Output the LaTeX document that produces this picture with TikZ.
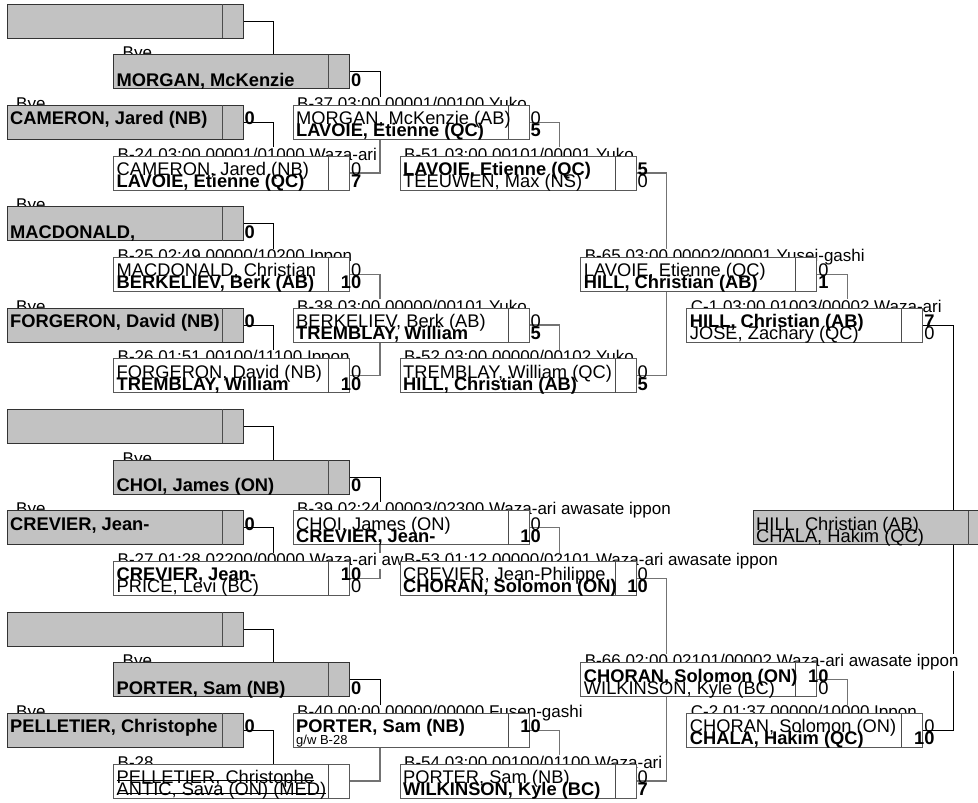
\documentclass[tikz,border=0pt]{standalone}
\usepackage{fontspec}
\setmainfont{Liberation Sans}
\definecolor{boxgray}{RGB}{194,194,194}
\newcommand\mydef[3]{\path node[boxdef] (#1) at (#2,-#3) {};}
\newcommand\mydraw[2]{\filldraw[#2] (#1.north west) rectangle (#1.south east);
  \draw[divl] ([xshift=-21pt]#1.north east) -- ([xshift=-21pt]#1.south east);}
\newcommand\mylab[3]{\node[labl, anchor=base west] (#1-l) at ([shift={(#3,-4pt)}]#1.north west) {#2};}
\newcommand\mytA[3]{\node[#3, anchor=base west] (#1-a) at ([shift={(3pt,-19.5pt)}]#1.north west) {#2};}
\newcommand\mytB[3]{\node[#3, anchor=base west] (#1-b) at ([shift={(3pt,-31.5pt)}]#1.north west) {#2};}
\newcommand\mysA[3]{\node[#3, anchor=base east] (#1-sa) at ([shift={(12pt,-19.5pt)}]#1.north east) {#2};}
\newcommand\mysB[3]{\node[#3, anchor=base east] (#1-sb) at ([shift={(12pt,-31.5pt)}]#1.north east) {#2};}
\newcommand\myconn[4]{\draw[#4] (#1.east) -- ++(30.5pt,0) coordinate (#1-k) -- (#1-k |- #2.#3);}
\tikzset{
  boxdef/.style={rectangle, minimum width=236pt, minimum height=34pt, inner sep=0pt, outer sep=0pt, anchor=north west},
  gbox/.style={draw=black!80, fill=boxgray, line width=0.9pt},
  wbox/.style={draw=black!65, fill=white, line width=0.9pt},
  divl/.style={draw=black!70, line width=0.9pt},
  labl/.style={fill=white, inner xsep=1pt, inner ysep=0.5pt, font=\fontsize{17}{17}\selectfont},
  nm/.style={inner sep=0pt, font=\fontsize{18.3}{18.3}\selectfont},
  nmb/.style={inner sep=0pt, font=\fontsize{18.3}{18.3}\selectfont\bfseries},
  nms/.style={inner sep=0pt, font=\fontsize{13}{13}\selectfont},
  cblk/.style={draw=black, line width=0.9pt},
  cgry/.style={draw=black!55, line width=1.2pt},
  strk/.style={draw=black, line width=0.9pt}
}
\begin{document}
\begin{tikzpicture}[x=1pt,y=1pt]
\useasboundingbox (0,0) rectangle (978,-803);
% ---- box positions
\mydef{G1}{7}{4}
\mydef{MOR}{113.5}{54.67}
\mydef{CAM}{7}{105.33}
\mydef{B24}{113.5}{156}
\mydef{MAC}{7}{206.67}
\mydef{B25}{113.5}{257.33}
\mydef{FOR}{7}{308}
\mydef{B26}{113.5}{358.67}
\mydef{G2}{7}{409.33}
\mydef{CHO}{113.5}{460}
\mydef{CRE}{7}{510.67}
\mydef{B27}{113.5}{561.33}
\mydef{G3}{7}{612}
\mydef{POR}{113.5}{662.67}
\mydef{PEL}{7}{713.33}
\mydef{B28}{113.5}{764}
\mydef{B37}{293}{105.33}
\mydef{B38}{293}{308}
\mydef{B39}{293}{510.67}
\mydef{B40}{293}{713.33}
\mydef{B51}{400}{156}
\mydef{B52}{400}{358.67}
\mydef{B53}{400}{561.33}
\mydef{B54}{400}{764}
\mydef{B65}{580.7}{257.33}
\mydef{B66}{580.7}{662.67}
\mydef{C1}{686.7}{308}
\mydef{C2}{686.7}{713.33}
\mydef{FIN}{753}{510.67}
% ---- connectors
\myconn{G1}{MOR}{north}{cblk}
\myconn{CAM}{B24}{north}{cblk}
\myconn{MOR}{B37}{north}{cblk}
\myconn{B24}{B37}{south}{cgry}
\myconn{B37}{B51}{north}{cgry}
\myconn{MAC}{B25}{north}{cblk}
\myconn{FOR}{B26}{north}{cblk}
\myconn{B25}{B38}{north}{cgry}
\myconn{B26}{B38}{south}{cgry}
\myconn{B38}{B52}{north}{cgry}
\myconn{B51}{B65}{north}{cgry}
\myconn{B52}{B65}{south}{cgry}
\myconn{B65}{C1}{north}{cgry}
\myconn{C1}{FIN}{north}{cblk}
\myconn{G2}{CHO}{north}{cblk}
\myconn{CRE}{B27}{north}{cblk}
\myconn{CHO}{B39}{north}{cblk}
\myconn{B27}{B39}{south}{cgry}
\myconn{B39}{B53}{north}{cgry}
\myconn{G3}{POR}{north}{cblk}
\myconn{PEL}{B28}{north}{cblk}
\myconn{POR}{B40}{north}{cblk}
\myconn{B28}{B40}{south}{cgry}
\myconn{B40}{B54}{north}{cgry}
\myconn{B53}{B66}{north}{cgry}
\myconn{B54}{B66}{south}{cgry}
\myconn{B66}{C2}{north}{cgry}
\myconn{C2}{FIN}{south}{cblk}
% ---- labels (column order)
\mylab{CAM}{Bye}{8pt}
\mylab{MAC}{Bye}{8pt}
\mylab{FOR}{Bye}{8pt}
\mylab{CRE}{Bye}{8pt}
\mylab{PEL}{Bye}{8pt}
\mylab{MOR}{Bye}{8pt}
\mylab{B24}{B-24 03:00 00001/01000 Waza-ari}{3pt}
\mylab{B25}{B-25 02:49 00000/10200 Ippon}{3pt}
\mylab{B26}{B-26 01:51 00100/11100 Ippon}{3pt}
\mylab{CHO}{Bye}{8pt}
\mylab{B27}{B-27 01:28 02200/00000 Waza-ari awasate ippon}{3pt}
\mylab{POR}{Bye}{8pt}
\mylab{B28}{B-28}{3pt}
\mylab{B37}{B-37 03:00 00001/00100 Yuko}{3pt}
\mylab{B38}{B-38 03:00 00000/00101 Yuko}{3pt}
\mylab{B39}{B-39 02:24 00003/02300 Waza-ari awasate ippon}{3pt}
\mylab{B40}{B-40 00:00 00000/00000 Fusen-gashi}{3pt}
\mylab{B51}{B-51 03:00 00101/00001 Yuko}{3pt}
\mylab{B52}{B-52 03:00 00000/00102 Yuko}{3pt}
\mylab{B53}{B-53 01:12 00000/02101 Waza-ari awasate ippon}{3pt}
\mylab{B54}{B-54 03:00 00100/01100 Waza-ari}{3pt}
\mylab{B65}{B-65 03:00 00002/00001 Yusei-gashi}{3pt}
\mylab{B66}{B-66 02:00 02101/00002 Waza-ari awasate ippon}{3pt}
\mylab{C1}{C-1 03:00 01003/00002 Waza-ari}{3pt}
\mylab{C2}{C-2 01:37 00000/10000 Ippon}{3pt}
% ---- boxes
\mydraw{G1}{gbox}
\mydraw{MOR}{gbox}
\mydraw{CAM}{gbox}
\mydraw{B24}{wbox}
\mydraw{MAC}{gbox}
\mydraw{B25}{wbox}
\mydraw{FOR}{gbox}
\mydraw{B26}{wbox}
\mydraw{G2}{gbox}
\mydraw{CHO}{gbox}
\mydraw{CRE}{gbox}
\mydraw{B27}{wbox}
\mydraw{G3}{gbox}
\mydraw{POR}{gbox}
\mydraw{PEL}{gbox}
\mydraw{B28}{wbox}
\mydraw{B37}{wbox}
\mydraw{B38}{wbox}
\mydraw{B39}{wbox}
\mydraw{B40}{wbox}
\mydraw{B51}{wbox}
\mydraw{B52}{wbox}
\mydraw{B53}{wbox}
\mydraw{B54}{wbox}
\mydraw{B65}{wbox}
\mydraw{B66}{wbox}
\mydraw{C1}{wbox}
\mydraw{C2}{wbox}
\mydraw{FIN}{gbox}
% ---- texts
\mytB{MOR}{MORGAN, McKenzie}{nmb} \mysB{MOR}{0}{nmb}
\mytA{CAM}{CAMERON, Jared (NB)}{nmb} \mysA{CAM}{0}{nmb}
\mytA{B24}{CAMERON, Jared (NB)}{nm} \mytB{B24}{LAVOIE, Etienne (QC)}{nmb}
\mysA{B24}{0}{nm} \mysB{B24}{7}{nmb}
\mytB{MAC}{MACDONALD,}{nmb} \mysB{MAC}{0}{nmb}
\mytA{B25}{MACDONALD, Christian}{nm} \mytB{B25}{BERKELIEV, Berk (AB)}{nmb}
\mysA{B25}{0}{nm} \mysB{B25}{10}{nmb}
\mytA{FOR}{FORGERON, David (NB)}{nmb} \mysA{FOR}{0}{nmb}
\mytA{B26}{FORGERON, David (NB)}{nm} \mytB{B26}{TREMBLAY, William}{nmb}
\mysA{B26}{0}{nm} \mysB{B26}{10}{nmb}
\mytA{B37}{MORGAN, McKenzie (AB)}{nm} \mytB{B37}{LAVOIE, Etienne (QC)}{nmb}
\mysA{B37}{0}{nm} \mysB{B37}{5}{nmb}
\mytA{B38}{BERKELIEV, Berk (AB)}{nm} \mytB{B38}{TREMBLAY, William}{nmb}
\mysA{B38}{0}{nm} \mysB{B38}{5}{nmb}
\mytA{B51}{LAVOIE, Etienne (QC)}{nmb} \mytB{B51}{TEEUWEN, Max (NS)}{nm}
\mysA{B51}{5}{nmb} \mysB{B51}{0}{nm}
\mytA{B52}{TREMBLAY, William (QC)}{nm} \mytB{B52}{HILL, Christian (AB)}{nmb}
\mysA{B52}{0}{nm} \mysB{B52}{5}{nmb}
\mytA{B65}{LAVOIE, Etienne (QC)}{nm} \mytB{B65}{HILL, Christian (AB)}{nmb}
\mysA{B65}{0}{nm} \mysB{B65}{1}{nmb}
\mytA{C1}{HILL, Christian (AB)}{nmb} \mytB{C1}{JOSE, Zachary (QC)}{nm}
\mysA{C1}{7}{nmb} \mysB{C1}{0}{nm}
\mytB{CHO}{CHOI, James (ON)}{nmb} \mysB{CHO}{0}{nmb}
\mytA{CRE}{CREVIER, Jean-}{nmb} \mysA{CRE}{0}{nmb}
\mytA{B27}{CREVIER, Jean-}{nmb} \mytB{B27}{PRICE, Levi (BC)}{nm}
\mysA{B27}{10}{nmb} \mysB{B27}{0}{nm}
\mytB{POR}{PORTER, Sam (NB)}{nmb} \mysB{POR}{0}{nmb}
\mytA{PEL}{PELLETIER, Christophe}{nmb} \mysA{PEL}{0}{nmb}
\mytA{B28}{PELLETIER, Christophe}{nm} \mytB{B28}{ANTIC, Sava (ON) (MED)}{nm}
\draw[strk] ([yshift=3.5pt]B28-a.base west) -- ([yshift=3.5pt]B28-a.base east);
\draw[strk] ([yshift=2.5pt]B28-b.base west) -- ([yshift=2.5pt]B28-b.base east);
\mytA{B39}{CHOI, James (ON)}{nm} \mytB{B39}{CREVIER, Jean-}{nmb}
\mysA{B39}{0}{nm} \mysB{B39}{10}{nmb}
\mytA{B40}{PORTER, Sam (NB)}{nmb} \mytB{B40}{g/w B-28}{nms}
\mysA{B40}{10}{nmb}
\mytA{B53}{CREVIER, Jean-Philippe}{nm} \mytB{B53}{CHORAN, Solomon (ON)}{nmb}
\mysA{B53}{0}{nm} \mysB{B53}{10}{nmb}
\mytA{B54}{PORTER, Sam (NB)}{nm} \mytB{B54}{WILKINSON, Kyle (BC)}{nmb}
\mysA{B54}{0}{nm} \mysB{B54}{7}{nmb}
\mytA{B66}{CHORAN, Solomon (ON)}{nmb} \mytB{B66}{WILKINSON, Kyle (BC)}{nm}
\mysA{B66}{10}{nmb} \mysB{B66}{0}{nm}
\mytA{C2}{CHORAN, Solomon (ON)}{nm} \mytB{C2}{CHALA, Hakim (QC)}{nmb}
\mysA{C2}{0}{nm} \mysB{C2}{10}{nmb}
\mytA{FIN}{HILL, Christian (AB)}{nm} \mytB{FIN}{CHALA, Hakim (QC)}{nm}
\end{tikzpicture}
\end{document}
